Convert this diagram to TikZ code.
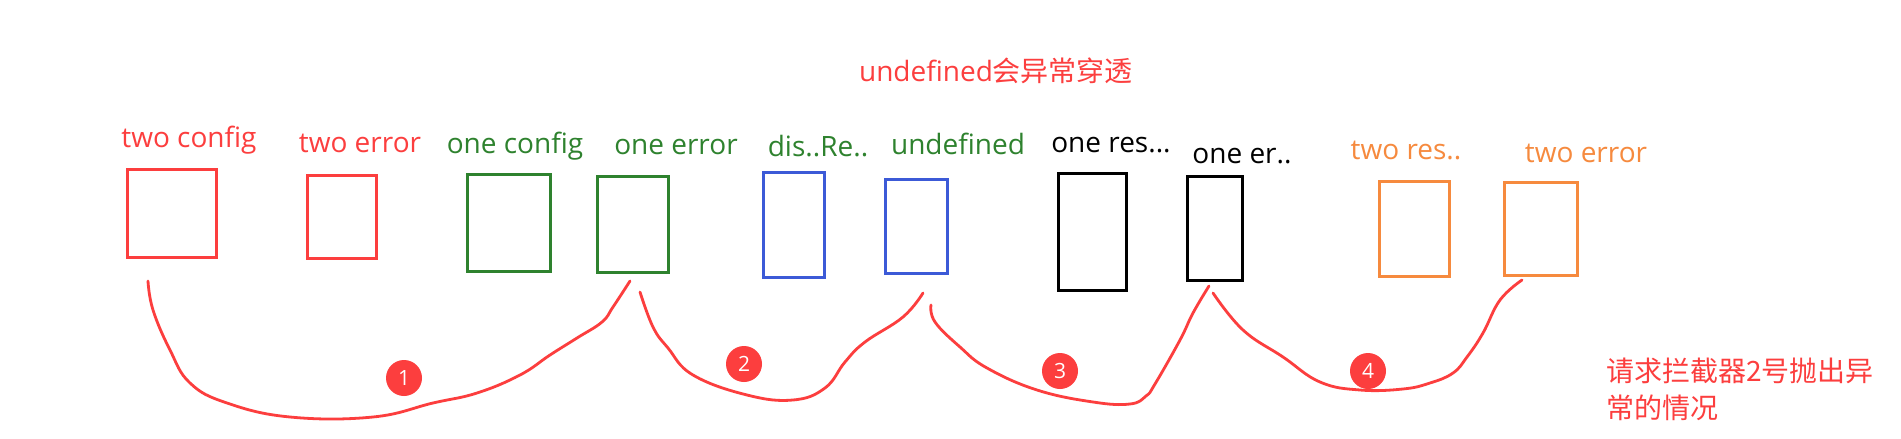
\documentclass[tikz,border=0pt]{standalone}
\usepackage{fontspec}
\setmainfont{Open Sans}
\newfontfamily\cjk{Noto Sans CJK SC}
\definecolor{cred}{RGB}{252,62,62}
\definecolor{cgreen}{RGB}{46,130,46}
\definecolor{cblue}{RGB}{60,90,215}
\definecolor{corange}{RGB}{246,138,62}
\definecolor{cblack}{RGB}{0,0,0}
\newcommand{\bx}[6]{\node[boxnode, draw=#2, minimum width={#5-#3-3}, minimum height={#6-#4-3}] (#1) at ({(#3+#5)/2},{(#4+#6)/2}) {};}
\begin{document}
\begin{tikzpicture}[x=1pt,y=-1pt,
  boxnode/.style={rectangle, line width=3pt, inner sep=0pt, outer sep=0pt},
  lbl/.style={anchor=base, inner sep=0pt, font=\fontsize{28}{32}\selectfont},
  hand/.style={cred, line width=2.8pt, line cap=round, line join=round},
  num/.style={circle, fill=cred, text=white, minimum size=36pt, inner sep=0pt, font=\fontsize{21}{24}\selectfont}]
\useasboundingbox (0,0) rectangle (1901,439);
\fill[white] (0,0) rectangle (1901,439);

% title
\node[lbl, text=cred] (title) at (996,81) {undefined{\cjk 会异常穿透}};

% labels
\node[lbl, text=cred] (l1) at (189,147) {two config};
\node[lbl, text=cred] (l2) at (360,152) {two error};
\node[lbl, text=cgreen] (l3) at (515,153) {one config};
\node[lbl, text=cgreen] (l4) at (676,154) {one error};
\node[lbl, text=cgreen] (l5) at (818,156) {dis..Re..};
\node[lbl, text=cgreen] (l6) at (958,154) {undefined};
\node[lbl, text=cblack] (l7) at (1111,152) {one res...};
\node[lbl, text=cblack] (l8) at (1242,163) {one er..};
\node[lbl, text=corange] (l9) at (1406,159) {two res..};
\node[lbl, text=corange] (l10) at (1586,162) {two error};

% boxes
\bx{b1}{cred}{126}{168}{218}{259}
\bx{b2}{cred}{306}{174}{378}{260}
\bx{b3}{cgreen}{466}{173}{552}{273}
\bx{b4}{cgreen}{596}{175}{670}{274}
\bx{b5}{cblue}{762}{171}{826}{279}
\bx{b6}{cblue}{884}{178}{949}{275}
\bx{b7}{cblack}{1057}{172}{1128}{292}
\bx{b8}{cblack}{1186}{175}{1244}{282}
\bx{b9}{corange}{1378}{180}{1451}{278}
\bx{b10}{corange}{1503}{181}{1579}{277}

% curve end points
\coordinate (c1s) at (148,281);
\coordinate (c1e) at (630,281);
\coordinate (c2s) at (640,292);
\coordinate (c2e) at (923,293);
\coordinate (c3s) at (931,305);
\coordinate (c3e) at (1209,286);
\coordinate (c4s) at (1213,293);
\coordinate (c4e) at (1522,280);

\draw[hand] plot[smooth, tension=0.7] coordinates {(c1s) (153,310) (170,350) (190,383) (227,403) (290,417) (373,417) (433,403) (477,393) (520,375) (550,355) (577,338) (602,322) (613,307) (c1e)};
\draw[hand] plot[smooth, tension=0.7] coordinates {(c2s) (653,327) (668,348) (693,375) (747,395) (793,400) (825,388) (845,362) (865,342) (903,317) (c2e)};
\draw[hand] plot[smooth, tension=0.7] coordinates {(c3s) (935,322) (960,347) (987,368) (1037,390) (1093,402) (1130,404) (1146,396) (1155,384) (1180,340) (1193,313) (c3e)};
\draw[hand] plot[smooth, tension=0.7] coordinates {(c4s) (1243,330) (1283,357) (1320,382) (1360,390) (1403,389) (1430,383) (1453,373) (1467,357) (1483,333) (1500,300) (c4e)};

% numbered markers
\node[num] (n1) at (404,378) {1};
\node[num] (n2) at (744,364) {2};
\node[num] (n3) at (1060,371) {3};
\node[num] (n4) at (1368,371) {4};

% note
\node[lbl, anchor=base west, text=cred] (note1) at (1606,381) {\cjk 请求拦截器2号抛出异};
\node[lbl, anchor=base west, text=cred] (note2) at (1606,418) {\cjk 常的情况};
\end{tikzpicture}
\end{document}
